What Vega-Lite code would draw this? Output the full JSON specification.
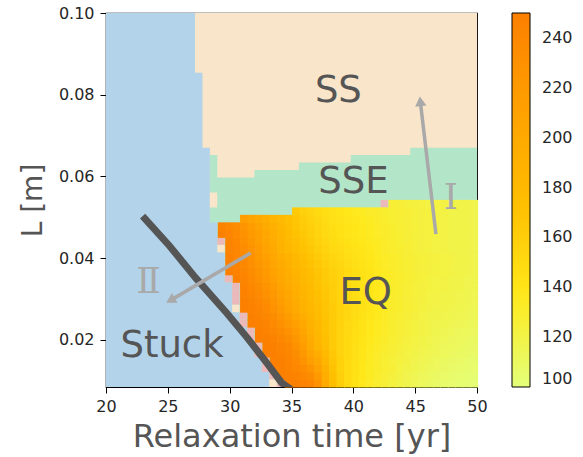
{
"$schema":"https://vega.github.io/schema/vega-lite/v6.json",
"width":371,"height":374,
"autosize":{"type":"none"},
"padding":{"left":106,"top":13,"right":106,"bottom":70},
"background":"white",
"config":{"view":{"stroke":"#000","strokeWidth":1.2},"font":"DejaVu Sans"},
"resolve":{"scale":{"color":"independent"}},
"layer":[
{"data":{"values":[
{"r":"SS","x1":20,"x2":50,"y1":0.0085,"y2":0.1},
{"r":"SSE","x1":28.4,"x2":50,"y1":0.0085,"y2":0.05974},
{"r":"SSE","x1":32,"x2":50,"y1":0.0085,"y2":0.06157},
{"r":"SSE","x1":35.6,"x2":50,"y1":0.0085,"y2":0.0634},
{"r":"SSE","x1":39.8,"x2":50,"y1":0.0085,"y2":0.06523},
{"r":"SSE","x1":44.6,"x2":50,"y1":0.0085,"y2":0.06706},
{"r":"SSE","x1":28.4,"x2":29,"y1":0.0085,"y2":0.06523},
{"r":"Stuck","x1":20,"x2":27.2,"y1":0.0085,"y2":0.1},
{"r":"Stuck","x1":20,"x2":27.8,"y1":0.0085,"y2":0.08536},
{"r":"Stuck","x1":20,"x2":28.4,"y1":0.0085,"y2":0.06706},
{"r":"Stuck","x1":20,"x2":29,"y1":0.0085,"y2":0.04876},
{"r":"Stuck","x1":20,"x2":29.6,"y1":0.0085,"y2":0.04144},
{"r":"Stuck","x1":20,"x2":30.2,"y1":0.0085,"y2":0.03412},
{"r":"Stuck","x1":20,"x2":30.8,"y1":0.0085,"y2":0.0268},
{"r":"Stuck","x1":20,"x2":31.4,"y1":0.0085,"y2":0.02314},
{"r":"Stuck","x1":20,"x2":32,"y1":0.0085,"y2":0.01948},
{"r":"Stuck","x1":20,"x2":32.6,"y1":0.0085,"y2":0.01582},
{"r":"Stuck","x1":20,"x2":33.2,"y1":0.0085,"y2":0.01216},
{"r":"Other","x1":29,"x2":29.6,"y1":0.04327,"y2":0.0451},
{"r":"Other","x1":29.6,"x2":30.2,"y1":0.03412,"y2":0.03595},
{"r":"Other","x1":30.2,"x2":30.8,"y1":0.02863,"y2":0.03046},
{"r":"Other","x1":30.2,"x2":30.8,"y1":0.03046,"y2":0.03229},
{"r":"Other","x1":30.2,"x2":30.8,"y1":0.03229,"y2":0.03412},
{"r":"Other","x1":30.8,"x2":31.4,"y1":0.02314,"y2":0.02497},
{"r":"Other","x1":30.8,"x2":31.4,"y1":0.02497,"y2":0.0268},
{"r":"Other","x1":31.4,"x2":32,"y1":0.01948,"y2":0.02131},
{"r":"Other","x1":31.4,"x2":32,"y1":0.02131,"y2":0.02314},
{"r":"Other","x1":32,"x2":32.6,"y1":0.01582,"y2":0.01765},
{"r":"Other","x1":32,"x2":32.6,"y1":0.01765,"y2":0.01948},
{"r":"Other","x1":32.6,"x2":33.2,"y1":0.01216,"y2":0.01399},
{"r":"Other","x1":32.6,"x2":33.2,"y1":0.01399,"y2":0.01582},
{"r":"Other","x1":33.2,"x2":33.8,"y1":0.01033,"y2":0.01216},
{"r":"Other","x1":33.8,"x2":34.4,"y1":0.0085,"y2":0.01033},
{"r":"Other","x1":42.2,"x2":42.8,"y1":0.05242,"y2":0.05425},
{"r":"SS","x1":28.4,"x2":29,"y1":0.05242,"y2":0.05608},
{"r":"SS","x1":29,"x2":29.6,"y1":0.04144,"y2":0.04327},
{"r":"SS","x1":30.2,"x2":30.8,"y1":0.0268,"y2":0.02863},
{"r":"SS","x1":33.2,"x2":33.8,"y1":0.0085,"y2":0.01033}
]},
"mark":{"type":"rect"},
"encoding":{
"x":{"field":"x1","type":"quantitative","scale":{"domain":[20,50],"nice":false,"zero":false},
"axis":{"title":"Relaxation time [yr]","values":[20,25,30,35,40,45,50],"format":"d","labelFontSize":16,"labelColor":"#262626","titleFontSize":32,"titleFontWeight":"normal","titleColor":"#555555","tickColor":"#000","tickSize":6,"domainColor":"#000","labelPadding":5,"titlePadding":7,"grid":false,"labelFlush":false}},
"x2":{"field":"x2"},
"y":{"field":"y1","type":"quantitative","scale":{"domain":[0.0085,0.1],"nice":false,"zero":false},
"axis":{"title":"L [m]","values":[0.02,0.04,0.06,0.08,0.1],"format":".2f","labelFontSize":16,"labelColor":"#262626","titleFontSize":28,"titleFontWeight":"normal","titleColor":"#555555","tickColor":"#000","tickSize":6,"domainColor":"#000","labelPadding":6,"titlePadding":11,"grid":false,"labelFlush":false}},
"y2":{"field":"y2"},
"color":{"field":"r","type":"nominal","scale":{"domain":["SS","SSE","Stuck","Other"],"range":["#f9e5c9","#b3e6c9","#b3d3ea","#ecb9bb"]},"legend":null}
}},
{"data":{"values":[
{"t":34.4,"L":0.0085,"v":250},{"t":35,"L":0.0085,"v":249},{"t":35.6,"L":0.0085,"v":247},{"t":36.2,"L":0.0085,"v":242},{"t":36.8,"L":0.0085,"v":228},{"t":37.4,"L":0.0085,"v":200},{"t":38,"L":0.0085,"v":175},{"t":38.6,"L":0.0085,"v":160},{"t":39.2,"L":0.0085,"v":150},{"t":39.8,"L":0.0085,"v":143},{"t":40.4,"L":0.0085,"v":137},{"t":41,"L":0.0085,"v":133},{"t":41.6,"L":0.0085,"v":129},{"t":42.2,"L":0.0085,"v":126},{"t":42.8,"L":0.0085,"v":123},{"t":43.4,"L":0.0085,"v":120},{"t":44,"L":0.0085,"v":117},{"t":44.6,"L":0.0085,"v":114},{"t":45.2,"L":0.0085,"v":112},{"t":45.8,"L":0.0085,"v":110},{"t":46.4,"L":0.0085,"v":108},{"t":47,"L":0.0085,"v":106},{"t":47.6,"L":0.0085,"v":105},{"t":48.2,"L":0.0085,"v":104},{"t":48.8,"L":0.0085,"v":103},{"t":49.4,"L":0.0085,"v":102},
{"t":33.8,"L":0.01033,"v":250},{"t":34.4,"L":0.01033,"v":248},{"t":35,"L":0.01033,"v":245},{"t":35.6,"L":0.01033,"v":241},{"t":36.2,"L":0.01033,"v":234},{"t":36.8,"L":0.01033,"v":220},{"t":37.4,"L":0.01033,"v":195},{"t":38,"L":0.01033,"v":173},{"t":38.6,"L":0.01033,"v":159},{"t":39.2,"L":0.01033,"v":150},{"t":39.8,"L":0.01033,"v":143},{"t":40.4,"L":0.01033,"v":138},{"t":41,"L":0.01033,"v":134},{"t":41.6,"L":0.01033,"v":130},{"t":42.2,"L":0.01033,"v":127},{"t":42.8,"L":0.01033,"v":124},{"t":43.4,"L":0.01033,"v":121},{"t":44,"L":0.01033,"v":118},{"t":44.6,"L":0.01033,"v":115},{"t":45.2,"L":0.01033,"v":113},{"t":45.8,"L":0.01033,"v":111},{"t":46.4,"L":0.01033,"v":109},{"t":47,"L":0.01033,"v":107},{"t":47.6,"L":0.01033,"v":106},{"t":48.2,"L":0.01033,"v":105},{"t":48.8,"L":0.01033,"v":104},{"t":49.4,"L":0.01033,"v":103},
{"t":33.2,"L":0.01216,"v":250},{"t":33.8,"L":0.01216,"v":249},{"t":34.4,"L":0.01216,"v":246},{"t":35,"L":0.01216,"v":241},{"t":35.6,"L":0.01216,"v":235},{"t":36.2,"L":0.01216,"v":226},{"t":36.8,"L":0.01216,"v":211},{"t":37.4,"L":0.01216,"v":190},{"t":38,"L":0.01216,"v":171},{"t":38.6,"L":0.01216,"v":157},{"t":39.2,"L":0.01216,"v":150},{"t":39.8,"L":0.01216,"v":144},{"t":40.4,"L":0.01216,"v":138},{"t":41,"L":0.01216,"v":134},{"t":41.6,"L":0.01216,"v":131},{"t":42.2,"L":0.01216,"v":128},{"t":42.8,"L":0.01216,"v":126},{"t":43.4,"L":0.01216,"v":122},{"t":44,"L":0.01216,"v":119},{"t":44.6,"L":0.01216,"v":117},{"t":45.2,"L":0.01216,"v":115},{"t":45.8,"L":0.01216,"v":113},{"t":46.4,"L":0.01216,"v":111},{"t":47,"L":0.01216,"v":109},{"t":47.6,"L":0.01216,"v":108},{"t":48.2,"L":0.01216,"v":107},{"t":48.8,"L":0.01216,"v":106},{"t":49.4,"L":0.01216,"v":105},
{"t":33.2,"L":0.01399,"v":250},{"t":33.8,"L":0.01399,"v":249},{"t":34.4,"L":0.01399,"v":244},{"t":35,"L":0.01399,"v":238},{"t":35.6,"L":0.01399,"v":228},{"t":36.2,"L":0.01399,"v":215},{"t":36.8,"L":0.01399,"v":203},{"t":37.4,"L":0.01399,"v":184},{"t":38,"L":0.01399,"v":169},{"t":38.6,"L":0.01399,"v":157},{"t":39.2,"L":0.01399,"v":150},{"t":39.8,"L":0.01399,"v":144},{"t":40.4,"L":0.01399,"v":139},{"t":41,"L":0.01399,"v":135},{"t":41.6,"L":0.01399,"v":131},{"t":42.2,"L":0.01399,"v":128},{"t":42.8,"L":0.01399,"v":125},{"t":43.4,"L":0.01399,"v":123},{"t":44,"L":0.01399,"v":121},{"t":44.6,"L":0.01399,"v":118},{"t":45.2,"L":0.01399,"v":116},{"t":45.8,"L":0.01399,"v":114},{"t":46.4,"L":0.01399,"v":112},{"t":47,"L":0.01399,"v":110},{"t":47.6,"L":0.01399,"v":109},{"t":48.2,"L":0.01399,"v":108},{"t":48.8,"L":0.01399,"v":107},{"t":49.4,"L":0.01399,"v":106},
{"t":32.6,"L":0.01582,"v":250},{"t":33.2,"L":0.01582,"v":249},{"t":33.8,"L":0.01582,"v":247},{"t":34.4,"L":0.01582,"v":242},{"t":35,"L":0.01582,"v":234},{"t":35.6,"L":0.01582,"v":222},{"t":36.2,"L":0.01582,"v":207},{"t":36.8,"L":0.01582,"v":194},{"t":37.4,"L":0.01582,"v":179},{"t":38,"L":0.01582,"v":166},{"t":38.6,"L":0.01582,"v":156},{"t":39.2,"L":0.01582,"v":150},{"t":39.8,"L":0.01582,"v":145},{"t":40.4,"L":0.01582,"v":139},{"t":41,"L":0.01582,"v":135},{"t":41.6,"L":0.01582,"v":132},{"t":42.2,"L":0.01582,"v":129},{"t":42.8,"L":0.01582,"v":126},{"t":43.4,"L":0.01582,"v":124},{"t":44,"L":0.01582,"v":122},{"t":44.6,"L":0.01582,"v":120},{"t":45.2,"L":0.01582,"v":118},{"t":45.8,"L":0.01582,"v":116},{"t":46.4,"L":0.01582,"v":114},{"t":47,"L":0.01582,"v":112},{"t":47.6,"L":0.01582,"v":111},{"t":48.2,"L":0.01582,"v":110},{"t":48.8,"L":0.01582,"v":109},{"t":49.4,"L":0.01582,"v":108},
{"t":32.6,"L":0.01765,"v":250},{"t":33.2,"L":0.01765,"v":249},{"t":33.8,"L":0.01765,"v":246},{"t":34.4,"L":0.01765,"v":240},{"t":35,"L":0.01765,"v":230},{"t":35.6,"L":0.01765,"v":216},{"t":36.2,"L":0.01765,"v":200},{"t":36.8,"L":0.01765,"v":186},{"t":37.4,"L":0.01765,"v":174},{"t":38,"L":0.01765,"v":164},{"t":38.6,"L":0.01765,"v":156},{"t":39.2,"L":0.01765,"v":150},{"t":39.8,"L":0.01765,"v":145},{"t":40.4,"L":0.01765,"v":140},{"t":41,"L":0.01765,"v":136},{"t":41.6,"L":0.01765,"v":133},{"t":42.2,"L":0.01765,"v":130},{"t":42.8,"L":0.01765,"v":127},{"t":43.4,"L":0.01765,"v":125},{"t":44,"L":0.01765,"v":123},{"t":44.6,"L":0.01765,"v":121},{"t":45.2,"L":0.01765,"v":119},{"t":45.8,"L":0.01765,"v":117},{"t":46.4,"L":0.01765,"v":115},{"t":47,"L":0.01765,"v":113},{"t":47.6,"L":0.01765,"v":112},{"t":48.2,"L":0.01765,"v":111},{"t":48.8,"L":0.01765,"v":110},{"t":49.4,"L":0.01765,"v":109},
{"t":32,"L":0.01948,"v":250},{"t":32.6,"L":0.01948,"v":249},{"t":33.2,"L":0.01948,"v":245},{"t":33.8,"L":0.01948,"v":241},{"t":34.4,"L":0.01948,"v":234},{"t":35,"L":0.01948,"v":224},{"t":35.6,"L":0.01948,"v":211},{"t":36.2,"L":0.01948,"v":197},{"t":36.8,"L":0.01948,"v":184},{"t":37.4,"L":0.01948,"v":173},{"t":38,"L":0.01948,"v":164},{"t":38.6,"L":0.01948,"v":156},{"t":39.2,"L":0.01948,"v":150},{"t":39.8,"L":0.01948,"v":146},{"t":40.4,"L":0.01948,"v":141},{"t":41,"L":0.01948,"v":137},{"t":41.6,"L":0.01948,"v":134},{"t":42.2,"L":0.01948,"v":131},{"t":42.8,"L":0.01948,"v":128},{"t":43.4,"L":0.01948,"v":126},{"t":44,"L":0.01948,"v":124},{"t":44.6,"L":0.01948,"v":122},{"t":45.2,"L":0.01948,"v":120},{"t":45.8,"L":0.01948,"v":118},{"t":46.4,"L":0.01948,"v":116},{"t":47,"L":0.01948,"v":114},{"t":47.6,"L":0.01948,"v":113},{"t":48.2,"L":0.01948,"v":112},{"t":48.8,"L":0.01948,"v":111},{"t":49.4,"L":0.01948,"v":110},
{"t":32,"L":0.02131,"v":250},{"t":32.6,"L":0.02131,"v":247},{"t":33.2,"L":0.02131,"v":242},{"t":33.8,"L":0.02131,"v":236},{"t":34.4,"L":0.02131,"v":228},{"t":35,"L":0.02131,"v":218},{"t":35.6,"L":0.02131,"v":206},{"t":36.2,"L":0.02131,"v":193},{"t":36.8,"L":0.02131,"v":182},{"t":37.4,"L":0.02131,"v":171},{"t":38,"L":0.02131,"v":164},{"t":38.6,"L":0.02131,"v":156},{"t":39.2,"L":0.02131,"v":151},{"t":39.8,"L":0.02131,"v":146},{"t":40.4,"L":0.02131,"v":142},{"t":41,"L":0.02131,"v":138},{"t":41.6,"L":0.02131,"v":135},{"t":42.2,"L":0.02131,"v":132},{"t":42.8,"L":0.02131,"v":129},{"t":43.4,"L":0.02131,"v":127},{"t":44,"L":0.02131,"v":125},{"t":44.6,"L":0.02131,"v":123},{"t":45.2,"L":0.02131,"v":121},{"t":45.8,"L":0.02131,"v":119},{"t":46.4,"L":0.02131,"v":117},{"t":47,"L":0.02131,"v":115},{"t":47.6,"L":0.02131,"v":114},{"t":48.2,"L":0.02131,"v":113},{"t":48.8,"L":0.02131,"v":112},{"t":49.4,"L":0.02131,"v":111},
{"t":31.4,"L":0.02314,"v":250},{"t":32,"L":0.02314,"v":248},{"t":32.6,"L":0.02314,"v":244},{"t":33.2,"L":0.02314,"v":238},{"t":33.8,"L":0.02314,"v":231},{"t":34.4,"L":0.02314,"v":222},{"t":35,"L":0.02314,"v":212},{"t":35.6,"L":0.02314,"v":201},{"t":36.2,"L":0.02314,"v":190},{"t":36.8,"L":0.02314,"v":180},{"t":37.4,"L":0.02314,"v":171},{"t":38,"L":0.02314,"v":163},{"t":38.6,"L":0.02314,"v":157},{"t":39.2,"L":0.02314,"v":151},{"t":39.8,"L":0.02314,"v":147},{"t":40.4,"L":0.02314,"v":142},{"t":41,"L":0.02314,"v":138},{"t":41.6,"L":0.02314,"v":135},{"t":42.2,"L":0.02314,"v":132},{"t":42.8,"L":0.02314,"v":129},{"t":43.4,"L":0.02314,"v":127},{"t":44,"L":0.02314,"v":125},{"t":44.6,"L":0.02314,"v":123},{"t":45.2,"L":0.02314,"v":121},{"t":45.8,"L":0.02314,"v":119},{"t":46.4,"L":0.02314,"v":118},{"t":47,"L":0.02314,"v":117},{"t":47.6,"L":0.02314,"v":116},{"t":48.2,"L":0.02314,"v":115},{"t":48.8,"L":0.02314,"v":114},{"t":49.4,"L":0.02314,"v":113},
{"t":31.4,"L":0.02497,"v":249},{"t":32,"L":0.02497,"v":246},{"t":32.6,"L":0.02497,"v":241},{"t":33.2,"L":0.02497,"v":234},{"t":33.8,"L":0.02497,"v":225},{"t":34.4,"L":0.02497,"v":216},{"t":35,"L":0.02497,"v":206},{"t":35.6,"L":0.02497,"v":196},{"t":36.2,"L":0.02497,"v":186},{"t":36.8,"L":0.02497,"v":178},{"t":37.4,"L":0.02497,"v":170},{"t":38,"L":0.02497,"v":163},{"t":38.6,"L":0.02497,"v":157},{"t":39.2,"L":0.02497,"v":152},{"t":39.8,"L":0.02497,"v":147},{"t":40.4,"L":0.02497,"v":143},{"t":41,"L":0.02497,"v":139},{"t":41.6,"L":0.02497,"v":136},{"t":42.2,"L":0.02497,"v":133},{"t":42.8,"L":0.02497,"v":130},{"t":43.4,"L":0.02497,"v":128},{"t":44,"L":0.02497,"v":126},{"t":44.6,"L":0.02497,"v":124},{"t":45.2,"L":0.02497,"v":122},{"t":45.8,"L":0.02497,"v":120},{"t":46.4,"L":0.02497,"v":119},{"t":47,"L":0.02497,"v":118},{"t":47.6,"L":0.02497,"v":117},{"t":48.2,"L":0.02497,"v":116},{"t":48.8,"L":0.02497,"v":115},{"t":49.4,"L":0.02497,"v":114},
{"t":30.8,"L":0.0268,"v":250},{"t":31.4,"L":0.0268,"v":248},{"t":32,"L":0.0268,"v":244},{"t":32.6,"L":0.0268,"v":238},{"t":33.2,"L":0.0268,"v":230},{"t":33.8,"L":0.0268,"v":220},{"t":34.4,"L":0.0268,"v":210},{"t":35,"L":0.0268,"v":200},{"t":35.6,"L":0.0268,"v":191},{"t":36.2,"L":0.0268,"v":183},{"t":36.8,"L":0.0268,"v":176},{"t":37.4,"L":0.0268,"v":169},{"t":38,"L":0.0268,"v":163},{"t":38.6,"L":0.0268,"v":157},{"t":39.2,"L":0.0268,"v":152},{"t":39.8,"L":0.0268,"v":148},{"t":40.4,"L":0.0268,"v":144},{"t":41,"L":0.0268,"v":140},{"t":41.6,"L":0.0268,"v":137},{"t":42.2,"L":0.0268,"v":134},{"t":42.8,"L":0.0268,"v":131},{"t":43.4,"L":0.0268,"v":129},{"t":44,"L":0.0268,"v":127},{"t":44.6,"L":0.0268,"v":125},{"t":45.2,"L":0.0268,"v":123},{"t":45.8,"L":0.0268,"v":121},{"t":46.4,"L":0.0268,"v":120},{"t":47,"L":0.0268,"v":119},{"t":47.6,"L":0.0268,"v":118},{"t":48.2,"L":0.0268,"v":117},{"t":48.8,"L":0.0268,"v":116},{"t":49.4,"L":0.0268,"v":115},
{"t":30.8,"L":0.02863,"v":250},{"t":31.4,"L":0.02863,"v":245},{"t":32,"L":0.02863,"v":241},{"t":32.6,"L":0.02863,"v":234},{"t":33.2,"L":0.02863,"v":226},{"t":33.8,"L":0.02863,"v":216},{"t":34.4,"L":0.02863,"v":207},{"t":35,"L":0.02863,"v":197},{"t":35.6,"L":0.02863,"v":189},{"t":36.2,"L":0.02863,"v":182},{"t":36.8,"L":0.02863,"v":174},{"t":37.4,"L":0.02863,"v":168},{"t":38,"L":0.02863,"v":162},{"t":38.6,"L":0.02863,"v":156},{"t":39.2,"L":0.02863,"v":151},{"t":39.8,"L":0.02863,"v":147},{"t":40.4,"L":0.02863,"v":143},{"t":41,"L":0.02863,"v":140},{"t":41.6,"L":0.02863,"v":137},{"t":42.2,"L":0.02863,"v":134},{"t":42.8,"L":0.02863,"v":131},{"t":43.4,"L":0.02863,"v":129},{"t":44,"L":0.02863,"v":127},{"t":44.6,"L":0.02863,"v":125},{"t":45.2,"L":0.02863,"v":124},{"t":45.8,"L":0.02863,"v":122},{"t":46.4,"L":0.02863,"v":121},{"t":47,"L":0.02863,"v":120},{"t":47.6,"L":0.02863,"v":119},{"t":48.2,"L":0.02863,"v":118},{"t":48.8,"L":0.02863,"v":117},{"t":49.4,"L":0.02863,"v":116},
{"t":30.8,"L":0.03046,"v":248},{"t":31.4,"L":0.03046,"v":243},{"t":32,"L":0.03046,"v":237},{"t":32.6,"L":0.03046,"v":230},{"t":33.2,"L":0.03046,"v":222},{"t":33.8,"L":0.03046,"v":213},{"t":34.4,"L":0.03046,"v":204},{"t":35,"L":0.03046,"v":195},{"t":35.6,"L":0.03046,"v":186},{"t":36.2,"L":0.03046,"v":179},{"t":36.8,"L":0.03046,"v":173},{"t":37.4,"L":0.03046,"v":167},{"t":38,"L":0.03046,"v":161},{"t":38.6,"L":0.03046,"v":156},{"t":39.2,"L":0.03046,"v":151},{"t":39.8,"L":0.03046,"v":146},{"t":40.4,"L":0.03046,"v":143},{"t":41,"L":0.03046,"v":140},{"t":41.6,"L":0.03046,"v":137},{"t":42.2,"L":0.03046,"v":134},{"t":42.8,"L":0.03046,"v":131},{"t":43.4,"L":0.03046,"v":129},{"t":44,"L":0.03046,"v":127},{"t":44.6,"L":0.03046,"v":125},{"t":45.2,"L":0.03046,"v":124},{"t":45.8,"L":0.03046,"v":122},{"t":46.4,"L":0.03046,"v":121},{"t":47,"L":0.03046,"v":120},{"t":47.6,"L":0.03046,"v":119},{"t":48.2,"L":0.03046,"v":118},{"t":48.8,"L":0.03046,"v":117},{"t":49.4,"L":0.03046,"v":116},
{"t":30.8,"L":0.03229,"v":247},{"t":31.4,"L":0.03229,"v":240},{"t":32,"L":0.03229,"v":234},{"t":32.6,"L":0.03229,"v":226},{"t":33.2,"L":0.03229,"v":218},{"t":33.8,"L":0.03229,"v":209},{"t":34.4,"L":0.03229,"v":200},{"t":35,"L":0.03229,"v":192},{"t":35.6,"L":0.03229,"v":184},{"t":36.2,"L":0.03229,"v":177},{"t":36.8,"L":0.03229,"v":171},{"t":37.4,"L":0.03229,"v":165},{"t":38,"L":0.03229,"v":160},{"t":38.6,"L":0.03229,"v":155},{"t":39.2,"L":0.03229,"v":150},{"t":39.8,"L":0.03229,"v":146},{"t":40.4,"L":0.03229,"v":143},{"t":41,"L":0.03229,"v":140},{"t":41.6,"L":0.03229,"v":137},{"t":42.2,"L":0.03229,"v":134},{"t":42.8,"L":0.03229,"v":131},{"t":43.4,"L":0.03229,"v":129},{"t":44,"L":0.03229,"v":127},{"t":44.6,"L":0.03229,"v":125},{"t":45.2,"L":0.03229,"v":124},{"t":45.8,"L":0.03229,"v":123},{"t":46.4,"L":0.03229,"v":122},{"t":47,"L":0.03229,"v":121},{"t":47.6,"L":0.03229,"v":120},{"t":48.2,"L":0.03229,"v":119},{"t":48.8,"L":0.03229,"v":118},{"t":49.4,"L":0.03229,"v":117},
{"t":30.2,"L":0.03412,"v":249},{"t":30.8,"L":0.03412,"v":244},{"t":31.4,"L":0.03412,"v":238},{"t":32,"L":0.03412,"v":230},{"t":32.6,"L":0.03412,"v":223},{"t":33.2,"L":0.03412,"v":214},{"t":33.8,"L":0.03412,"v":205},{"t":34.4,"L":0.03412,"v":197},{"t":35,"L":0.03412,"v":190},{"t":35.6,"L":0.03412,"v":182},{"t":36.2,"L":0.03412,"v":175},{"t":36.8,"L":0.03412,"v":170},{"t":37.4,"L":0.03412,"v":164},{"t":38,"L":0.03412,"v":159},{"t":38.6,"L":0.03412,"v":155},{"t":39.2,"L":0.03412,"v":150},{"t":39.8,"L":0.03412,"v":146},{"t":40.4,"L":0.03412,"v":143},{"t":41,"L":0.03412,"v":140},{"t":41.6,"L":0.03412,"v":137},{"t":42.2,"L":0.03412,"v":134},{"t":42.8,"L":0.03412,"v":132},{"t":43.4,"L":0.03412,"v":130},{"t":44,"L":0.03412,"v":128},{"t":44.6,"L":0.03412,"v":126},{"t":45.2,"L":0.03412,"v":125},{"t":45.8,"L":0.03412,"v":123},{"t":46.4,"L":0.03412,"v":122},{"t":47,"L":0.03412,"v":121},{"t":47.6,"L":0.03412,"v":120},{"t":48.2,"L":0.03412,"v":119},{"t":48.8,"L":0.03412,"v":118},{"t":49.4,"L":0.03412,"v":117},
{"t":29.6,"L":0.03595,"v":250},{"t":30.2,"L":0.03595,"v":247},{"t":30.8,"L":0.03595,"v":242},{"t":31.4,"L":0.03595,"v":235},{"t":32,"L":0.03595,"v":227},{"t":32.6,"L":0.03595,"v":219},{"t":33.2,"L":0.03595,"v":210},{"t":33.8,"L":0.03595,"v":202},{"t":34.4,"L":0.03595,"v":194},{"t":35,"L":0.03595,"v":187},{"t":35.6,"L":0.03595,"v":180},{"t":36.2,"L":0.03595,"v":174},{"t":36.8,"L":0.03595,"v":168},{"t":37.4,"L":0.03595,"v":163},{"t":38,"L":0.03595,"v":158},{"t":38.6,"L":0.03595,"v":154},{"t":39.2,"L":0.03595,"v":150},{"t":39.8,"L":0.03595,"v":146},{"t":40.4,"L":0.03595,"v":143},{"t":41,"L":0.03595,"v":140},{"t":41.6,"L":0.03595,"v":137},{"t":42.2,"L":0.03595,"v":134},{"t":42.8,"L":0.03595,"v":132},{"t":43.4,"L":0.03595,"v":130},{"t":44,"L":0.03595,"v":128},{"t":44.6,"L":0.03595,"v":126},{"t":45.2,"L":0.03595,"v":125},{"t":45.8,"L":0.03595,"v":124},{"t":46.4,"L":0.03595,"v":123},{"t":47,"L":0.03595,"v":122},{"t":47.6,"L":0.03595,"v":121},{"t":48.2,"L":0.03595,"v":120},{"t":48.8,"L":0.03595,"v":119},{"t":49.4,"L":0.03595,"v":118},
{"t":29.6,"L":0.03778,"v":249},{"t":30.2,"L":0.03778,"v":245},{"t":30.8,"L":0.03778,"v":240},{"t":31.4,"L":0.03778,"v":232},{"t":32,"L":0.03778,"v":224},{"t":32.6,"L":0.03778,"v":216},{"t":33.2,"L":0.03778,"v":207},{"t":33.8,"L":0.03778,"v":199},{"t":34.4,"L":0.03778,"v":191},{"t":35,"L":0.03778,"v":184},{"t":35.6,"L":0.03778,"v":177},{"t":36.2,"L":0.03778,"v":171},{"t":36.8,"L":0.03778,"v":165},{"t":37.4,"L":0.03778,"v":161},{"t":38,"L":0.03778,"v":156},{"t":38.6,"L":0.03778,"v":152},{"t":39.2,"L":0.03778,"v":148},{"t":39.8,"L":0.03778,"v":145},{"t":40.4,"L":0.03778,"v":142},{"t":41,"L":0.03778,"v":139},{"t":41.6,"L":0.03778,"v":136},{"t":42.2,"L":0.03778,"v":133},{"t":42.8,"L":0.03778,"v":131},{"t":43.4,"L":0.03778,"v":130},{"t":44,"L":0.03778,"v":128},{"t":44.6,"L":0.03778,"v":126},{"t":45.2,"L":0.03778,"v":125},{"t":45.8,"L":0.03778,"v":124},{"t":46.4,"L":0.03778,"v":123},{"t":47,"L":0.03778,"v":122},{"t":47.6,"L":0.03778,"v":121},{"t":48.2,"L":0.03778,"v":120},{"t":48.8,"L":0.03778,"v":119},{"t":49.4,"L":0.03778,"v":118},
{"t":29.6,"L":0.03961,"v":248},{"t":30.2,"L":0.03961,"v":243},{"t":30.8,"L":0.03961,"v":237},{"t":31.4,"L":0.03961,"v":229},{"t":32,"L":0.03961,"v":221},{"t":32.6,"L":0.03961,"v":213},{"t":33.2,"L":0.03961,"v":204},{"t":33.8,"L":0.03961,"v":195},{"t":34.4,"L":0.03961,"v":188},{"t":35,"L":0.03961,"v":181},{"t":35.6,"L":0.03961,"v":174},{"t":36.2,"L":0.03961,"v":168},{"t":36.8,"L":0.03961,"v":163},{"t":37.4,"L":0.03961,"v":158},{"t":38,"L":0.03961,"v":154},{"t":38.6,"L":0.03961,"v":150},{"t":39.2,"L":0.03961,"v":146},{"t":39.8,"L":0.03961,"v":143},{"t":40.4,"L":0.03961,"v":141},{"t":41,"L":0.03961,"v":138},{"t":41.6,"L":0.03961,"v":135},{"t":42.2,"L":0.03961,"v":133},{"t":42.8,"L":0.03961,"v":131},{"t":43.4,"L":0.03961,"v":129},{"t":44,"L":0.03961,"v":127},{"t":44.6,"L":0.03961,"v":126},{"t":45.2,"L":0.03961,"v":125},{"t":45.8,"L":0.03961,"v":124},{"t":46.4,"L":0.03961,"v":123},{"t":47,"L":0.03961,"v":122},{"t":47.6,"L":0.03961,"v":121},{"t":48.2,"L":0.03961,"v":120},{"t":48.8,"L":0.03961,"v":119},{"t":49.4,"L":0.03961,"v":118},
{"t":29.6,"L":0.04144,"v":246},{"t":30.2,"L":0.04144,"v":242},{"t":30.8,"L":0.04144,"v":235},{"t":31.4,"L":0.04144,"v":227},{"t":32,"L":0.04144,"v":218},{"t":32.6,"L":0.04144,"v":209},{"t":33.2,"L":0.04144,"v":201},{"t":33.8,"L":0.04144,"v":191},{"t":34.4,"L":0.04144,"v":183},{"t":35,"L":0.04144,"v":176},{"t":35.6,"L":0.04144,"v":171},{"t":36.2,"L":0.04144,"v":165},{"t":36.8,"L":0.04144,"v":160},{"t":37.4,"L":0.04144,"v":156},{"t":38,"L":0.04144,"v":151},{"t":38.6,"L":0.04144,"v":148},{"t":39.2,"L":0.04144,"v":145},{"t":39.8,"L":0.04144,"v":142},{"t":40.4,"L":0.04144,"v":140},{"t":41,"L":0.04144,"v":137},{"t":41.6,"L":0.04144,"v":135},{"t":42.2,"L":0.04144,"v":132},{"t":42.8,"L":0.04144,"v":130},{"t":43.4,"L":0.04144,"v":129},{"t":44,"L":0.04144,"v":127},{"t":44.6,"L":0.04144,"v":125},{"t":45.2,"L":0.04144,"v":124},{"t":45.8,"L":0.04144,"v":123},{"t":46.4,"L":0.04144,"v":122},{"t":47,"L":0.04144,"v":121},{"t":47.6,"L":0.04144,"v":120},{"t":48.2,"L":0.04144,"v":120},{"t":48.8,"L":0.04144,"v":119},{"t":49.4,"L":0.04144,"v":118},
{"t":29.6,"L":0.04327,"v":245},{"t":30.2,"L":0.04327,"v":240},{"t":30.8,"L":0.04327,"v":232},{"t":31.4,"L":0.04327,"v":224},{"t":32,"L":0.04327,"v":215},{"t":32.6,"L":0.04327,"v":206},{"t":33.2,"L":0.04327,"v":198},{"t":33.8,"L":0.04327,"v":189},{"t":34.4,"L":0.04327,"v":180},{"t":35,"L":0.04327,"v":174},{"t":35.6,"L":0.04327,"v":168},{"t":36.2,"L":0.04327,"v":163},{"t":36.8,"L":0.04327,"v":158},{"t":37.4,"L":0.04327,"v":153},{"t":38,"L":0.04327,"v":149},{"t":38.6,"L":0.04327,"v":146},{"t":39.2,"L":0.04327,"v":143},{"t":39.8,"L":0.04327,"v":140},{"t":40.4,"L":0.04327,"v":138},{"t":41,"L":0.04327,"v":136},{"t":41.6,"L":0.04327,"v":134},{"t":42.2,"L":0.04327,"v":132},{"t":42.8,"L":0.04327,"v":130},{"t":43.4,"L":0.04327,"v":128},{"t":44,"L":0.04327,"v":126},{"t":44.6,"L":0.04327,"v":125},{"t":45.2,"L":0.04327,"v":124},{"t":45.8,"L":0.04327,"v":123},{"t":46.4,"L":0.04327,"v":122},{"t":47,"L":0.04327,"v":121},{"t":47.6,"L":0.04327,"v":120},{"t":48.2,"L":0.04327,"v":120},{"t":48.8,"L":0.04327,"v":119},{"t":49.4,"L":0.04327,"v":118},
{"t":29,"L":0.0451,"v":248},{"t":29.6,"L":0.0451,"v":244},{"t":30.2,"L":0.0451,"v":238},{"t":30.8,"L":0.0451,"v":230},{"t":31.4,"L":0.0451,"v":221},{"t":32,"L":0.0451,"v":212},{"t":32.6,"L":0.0451,"v":203},{"t":33.2,"L":0.0451,"v":195},{"t":33.8,"L":0.0451,"v":186},{"t":34.4,"L":0.0451,"v":178},{"t":35,"L":0.0451,"v":171},{"t":35.6,"L":0.0451,"v":165},{"t":36.2,"L":0.0451,"v":160},{"t":36.8,"L":0.0451,"v":155},{"t":37.4,"L":0.0451,"v":151},{"t":38,"L":0.0451,"v":147},{"t":38.6,"L":0.0451,"v":144},{"t":39.2,"L":0.0451,"v":141},{"t":39.8,"L":0.0451,"v":139},{"t":40.4,"L":0.0451,"v":137},{"t":41,"L":0.0451,"v":135},{"t":41.6,"L":0.0451,"v":133},{"t":42.2,"L":0.0451,"v":131},{"t":42.8,"L":0.0451,"v":129},{"t":43.4,"L":0.0451,"v":128},{"t":44,"L":0.0451,"v":126},{"t":44.6,"L":0.0451,"v":125},{"t":45.2,"L":0.0451,"v":124},{"t":45.8,"L":0.0451,"v":123},{"t":46.4,"L":0.0451,"v":122},{"t":47,"L":0.0451,"v":121},{"t":47.6,"L":0.0451,"v":120},{"t":48.2,"L":0.0451,"v":120},{"t":48.8,"L":0.0451,"v":119},{"t":49.4,"L":0.0451,"v":118},
{"t":29,"L":0.04693,"v":246},{"t":29.6,"L":0.04693,"v":241},{"t":30.2,"L":0.04693,"v":235},{"t":30.8,"L":0.04693,"v":226},{"t":31.4,"L":0.04693,"v":217},{"t":32,"L":0.04693,"v":208},{"t":32.6,"L":0.04693,"v":200},{"t":33.2,"L":0.04693,"v":192},{"t":33.8,"L":0.04693,"v":184},{"t":34.4,"L":0.04693,"v":176},{"t":35,"L":0.04693,"v":169},{"t":35.6,"L":0.04693,"v":164},{"t":36.2,"L":0.04693,"v":159},{"t":36.8,"L":0.04693,"v":154},{"t":37.4,"L":0.04693,"v":150},{"t":38,"L":0.04693,"v":146},{"t":38.6,"L":0.04693,"v":143},{"t":39.2,"L":0.04693,"v":141},{"t":39.8,"L":0.04693,"v":139},{"t":40.4,"L":0.04693,"v":137},{"t":41,"L":0.04693,"v":135},{"t":41.6,"L":0.04693,"v":133},{"t":42.2,"L":0.04693,"v":131},{"t":42.8,"L":0.04693,"v":129},{"t":43.4,"L":0.04693,"v":127},{"t":44,"L":0.04693,"v":126},{"t":44.6,"L":0.04693,"v":125},{"t":45.2,"L":0.04693,"v":124},{"t":45.8,"L":0.04693,"v":123},{"t":46.4,"L":0.04693,"v":122},{"t":47,"L":0.04693,"v":121},{"t":47.6,"L":0.04693,"v":120},{"t":48.2,"L":0.04693,"v":119},{"t":48.8,"L":0.04693,"v":119},{"t":49.4,"L":0.04693,"v":118},
{"t":30.8,"L":0.04876,"v":215},{"t":31.4,"L":0.04876,"v":208},{"t":32,"L":0.04876,"v":201},{"t":32.6,"L":0.04876,"v":194},{"t":33.2,"L":0.04876,"v":187},{"t":33.8,"L":0.04876,"v":180},{"t":34.4,"L":0.04876,"v":173},{"t":35,"L":0.04876,"v":167},{"t":35.6,"L":0.04876,"v":162},{"t":36.2,"L":0.04876,"v":157},{"t":36.8,"L":0.04876,"v":152},{"t":37.4,"L":0.04876,"v":148},{"t":38,"L":0.04876,"v":145},{"t":38.6,"L":0.04876,"v":142},{"t":39.2,"L":0.04876,"v":140},{"t":39.8,"L":0.04876,"v":138},{"t":40.4,"L":0.04876,"v":136},{"t":41,"L":0.04876,"v":134},{"t":41.6,"L":0.04876,"v":132},{"t":42.2,"L":0.04876,"v":130},{"t":42.8,"L":0.04876,"v":128},{"t":43.4,"L":0.04876,"v":127},{"t":44,"L":0.04876,"v":126},{"t":44.6,"L":0.04876,"v":125},{"t":45.2,"L":0.04876,"v":124},{"t":45.8,"L":0.04876,"v":123},{"t":46.4,"L":0.04876,"v":122},{"t":47,"L":0.04876,"v":121},{"t":47.6,"L":0.04876,"v":120},{"t":48.2,"L":0.04876,"v":119},{"t":48.8,"L":0.04876,"v":119},{"t":49.4,"L":0.04876,"v":118},
{"t":35,"L":0.05059,"v":163},{"t":35.6,"L":0.05059,"v":158},{"t":36.2,"L":0.05059,"v":154},{"t":36.8,"L":0.05059,"v":150},{"t":37.4,"L":0.05059,"v":146},{"t":38,"L":0.05059,"v":143},{"t":38.6,"L":0.05059,"v":140},{"t":39.2,"L":0.05059,"v":138},{"t":39.8,"L":0.05059,"v":136},{"t":40.4,"L":0.05059,"v":134},{"t":41,"L":0.05059,"v":132},{"t":41.6,"L":0.05059,"v":131},{"t":42.2,"L":0.05059,"v":129},{"t":42.8,"L":0.05059,"v":128},{"t":43.4,"L":0.05059,"v":127},{"t":44,"L":0.05059,"v":126},{"t":44.6,"L":0.05059,"v":125},{"t":45.2,"L":0.05059,"v":124},{"t":45.8,"L":0.05059,"v":123},{"t":46.4,"L":0.05059,"v":122},{"t":47,"L":0.05059,"v":121},{"t":47.6,"L":0.05059,"v":120},{"t":48.2,"L":0.05059,"v":119},{"t":48.8,"L":0.05059,"v":119},{"t":49.4,"L":0.05059,"v":118},
{"t":42.8,"L":0.05242,"v":127},{"t":43.4,"L":0.05242,"v":126},{"t":44,"L":0.05242,"v":125},{"t":44.6,"L":0.05242,"v":124},{"t":45.2,"L":0.05242,"v":123},{"t":45.8,"L":0.05242,"v":122},{"t":46.4,"L":0.05242,"v":122},{"t":47,"L":0.05242,"v":121},{"t":47.6,"L":0.05242,"v":120},{"t":48.2,"L":0.05242,"v":119},{"t":48.8,"L":0.05242,"v":119},{"t":49.4,"L":0.05242,"v":118}
]},
"mark":{"type":"rect","binSpacing":0},
"encoding":{
"x":{"field":"t","type":"quantitative","bin":{"binned":true,"step":0.65}},
"y":{"field":"L","type":"quantitative","bin":{"binned":true,"step":0.00198}},
"color":{"field":"v","type":"quantitative","scale":{"domain":[100,137.5,175,212.5,250],"range":["#e4ff7a","#ffe81a","#ffbd00","#ffa000","#fc7f00"],"interpolate":"rgb"},
"legend":{"type":"gradient","orient":"none","legendX":406,"legendY":0,"direction":"vertical","gradientLength":374,"gradientThickness":18,"gradientStrokeColor":"#000","gradientStrokeWidth":1,"title":null,"values":[100,120,140,160,180,200,220,240],"labelFontSize":16,"labelOffset":12,"labelColor":"#262626","labelBaseline":"middle","labelOverlap":false,"padding":0}}
}},
{"data":{"values":[{"t":22.96,"L":0.0503},{"t":25.14,"L":0.043},{"t":27.25,"L":0.0352},{"t":29.76,"L":0.0266},{"t":31.38,"L":0.0207},{"t":33.0,"L":0.0144},{"t":34.21,"L":0.0095},{"t":35.0,"L":0.0078}]},
"mark":{"type":"line","color":"#555555","strokeWidth":7,"clip":true,"strokeCap":"butt"},
"encoding":{"x":{"field":"t","type":"quantitative"},"y":{"field":"L","type":"quantitative"}}},
{"data":{"values":[{"arrow":"I","t":46.68,"L":0.0459},{"arrow":"I","t":45.45,"L":0.0775},{"arrow":"II","t":31.7,"L":0.0413},{"arrow":"II","t":25.38,"L":0.03}]},
"mark":{"type":"line","color":"#a9a9a9","strokeWidth":3.5},
"encoding":{"x":{"field":"t","type":"quantitative"},"y":{"field":"L","type":"quantitative"},"detail":{"field":"arrow"}}},
{"data":{"values":[{"arrow":"I","t":45.43,"L":0.078}]},
"mark":{"type":"point","shape":"triangle","filled":true,"size":130,"angle":354,"color":"#a9a9a9","opacity":1},
"encoding":{"x":{"field":"t","type":"quantitative"},"y":{"field":"L","type":"quantitative"}}},
{"data":{"values":[{"arrow":"II","t":25.33,"L":0.0299}]},
"mark":{"type":"point","shape":"triangle","filled":true,"size":130,"angle":240,"color":"#a9a9a9","opacity":1},
"encoding":{"x":{"field":"t","type":"quantitative"},"y":{"field":"L","type":"quantitative"}}},
{"data":{"values":[{"label":"SS","t":38.79,"L":0.081},{"label":"SSE","t":40.0,"L":0.0586},{"label":"EQ","t":41.0,"L":0.0316},{"label":"Stuck","t":25.34,"L":0.0185}]},
"mark":{"type":"text","fontSize":37,"color":"#555555","align":"center","baseline":"middle"},
"encoding":{"x":{"field":"t","type":"quantitative"},"y":{"field":"L","type":"quantitative"},"text":{"field":"label"}}},
{"data":{"values":[{"label":"Ⅰ","t":47.88,"L":0.0547},{"label":"Ⅱ","t":23.43,"L":0.0341}]},
"mark":{"type":"text","fontSize":36,"font":"DejaVu Serif","color":"#a9a9a9","align":"center","baseline":"middle"},
"encoding":{"x":{"field":"t","type":"quantitative"},"y":{"field":"L","type":"quantitative"},"text":{"field":"label"}}}
]
}
